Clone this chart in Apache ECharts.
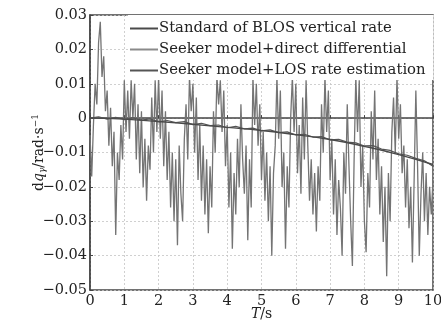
<!DOCTYPE html>
<html>
<head>
<meta charset="utf-8">
<script src="https://cdn.jsdelivr.net/npm/echarts@6/dist/echarts.min.js"></script>
<style>
  html, body { margin: 0; padding: 0; background: #fff; }
  #chart { width: 441px; height: 322px; }
</style>
</head>
<body>
<div id="chart"></div>
<script>
// time step of the sampled series (s)
const noiseStep = 0.05;
const losStep = 0.25;

const seriesNames = [
  "Standard of BLOS vertical rate",
  "Seeker model+direct differential",
  "Seeker model+LOS rate estimation",
];

// standard BLOS vertical rate, t = 0..10 s, 1 s apart
const standardT = [0, 1, 2, 3, 4, 5, 6, 7, 8, 9, 10];
const standardRate = [0, -0.0003, -0.001, -0.0018, -0.0027, -0.0036, -0.0048, -0.0062, -0.0082, -0.0106, -0.0135];

// seeker model + direct differential, every 0.05 s
const directRate = [
  -0.005, -0.017, -0.002, 0.010, 0.004, 0.022, 0.028, 0.012, 0.018, 0.002,
  0.008, -0.008, 0.003, -0.014, -0.004, -0.034, -0.010, -0.018, -0.002, -0.012,
  0.011, -0.004, 0.008, -0.006, 0.011, 0.000, 0.010, -0.012, 0.004, -0.016,
  0.002, -0.020, -0.006, -0.024, -0.008, -0.015, 0.006, -0.010, 0.011, -0.004,
  0.012, -0.006, 0.008, -0.014, 0.002, -0.018, -0.004, -0.026, -0.010, -0.030,
  -0.012, -0.037, -0.008, -0.022, -0.030, -0.006, 0.004, -0.012, 0.012, 0.002,
  0.010, -0.010, 0.006, -0.018, -0.002, -0.024, -0.008, -0.028, -0.012, -0.0335,
  -0.014, -0.026, 0.002, -0.010, 0.012, 0.004, 0.011, -0.004, 0.008, -0.014,
  -0.002, -0.026, -0.010, -0.038, -0.016, -0.028, -0.006, -0.020, 0.004, -0.012,
  -0.022, -0.008, -0.0355, -0.012, -0.026, 0.012, -0.002, 0.010, -0.008, 0.004,
  -0.018, -0.004, -0.024, -0.010, -0.030, -0.014, -0.040, -0.016, -0.008, 0.012,
  -0.006, 0.008, -0.020, -0.010, -0.038, -0.014, -0.026, 0.000, 0.012, -0.004,
  0.010, -0.016, -0.002, -0.022, 0.006, -0.012, 0.011, -0.008, -0.024, -0.012,
  -0.028, -0.016, -0.033, -0.014, -0.024, 0.004, -0.010, 0.012, -0.004, 0.008,
  -0.018, -0.006, -0.028, -0.012, -0.034, -0.018, -0.026, -0.040, -0.010, -0.022,
  0.004, -0.014, -0.030, -0.043, -0.012, 0.012, -0.004, 0.011, -0.020, -0.008,
  -0.030, -0.039, -0.016, -0.026, 0.002, -0.012, 0.008, -0.018, -0.006, -0.028,
  -0.014, -0.036, -0.020, -0.046, -0.016, -0.030, -0.004, 0.006, -0.010, 0.012,
  -0.006, 0.004, -0.016, -0.008, -0.026, -0.012, -0.032, -0.020, -0.042, -0.018,
  0.008, -0.014, -0.040, -0.022, -0.010, -0.030, -0.016, -0.034, -0.020, -0.028,
  -0.018,
];

// seeker model + LOS rate estimation, every 0.25 s
const losRate = [
  0.0000, 0.0004, -0.0003, 0.0002, -0.0004, 0.0001, -0.0006, -0.0002, -0.0011, -0.0007,
  -0.0013, -0.0010, -0.0019, -0.0015, -0.0022, -0.0020, -0.0028, -0.0024, -0.0031, -0.0029,
  -0.0037, -0.0034, -0.0042, -0.0040, -0.0049, -0.0047, -0.0055, -0.0054, -0.0063, -0.0062,
  -0.0070, -0.0072, -0.0081, -0.0080, -0.0090, -0.0094, -0.0104, -0.0108, -0.0117, -0.0124,
  -0.0140,
];

const yTicks = [0.03, 0.02, 0.01, 0, -0.01, -0.02, -0.03, -0.04, -0.05];
const xTicks = [0, 1, 2, 3, 4, 5, 6, 7, 8, 9, 10];

const serif = "DejaVu Serif";
const ink = "#222";

const chart = echarts.init(document.getElementById("chart"));

function pairs(step, values) {
  return values.map((v, i) => [+(i * step).toFixed(2), v]);
}

chart.setOption({
  animation: false,
  grid: {
    left: 90,
    right: 8,
    top: 15,
    bottom: 32,
    outerBoundsMode: "none",
    show: true,
    borderColor: "#444",
    borderWidth: 1.5,
  },
  legend: {
    orient: "vertical",
    left: 128,
    top: 15,
    right: 9,
    itemWidth: 28,
    itemHeight: 14,
    itemGap: 6,
    padding: [6, 8, 2, 2],
    backgroundColor: "#fff",
    icon: "path://M0,6H28V8H0Z",
    textStyle: { fontFamily: serif, fontSize: 14.8, color: ink, padding: [0, 0, 0, -4] },
    data: seriesNames,
  },
  xAxis: {
    type: "value",
    min: xTicks[0],
    max: xTicks[xTicks.length - 1],
    interval: 1,
    name: "{it|T}/s",
    nameLocation: "middle",
    nameGap: 17,
    nameMoveOverlap: false,
    nameTextStyle: {
      fontFamily: serif,
      fontSize: 14,
      color: ink,
      rich: { it: { fontStyle: "italic", fontFamily: serif, fontSize: 14, color: ink } },
    },
    axisLine: { show: true, lineStyle: { color: "#444", width: 1.5 } },
    axisTick: { inside: true, length: 3, lineStyle: { color: "#444" } },
    axisLabel: { fontFamily: serif, fontSize: 14.5, color: ink, margin: 4 },
    splitLine: { show: true, lineStyle: { color: "#c4c4c4", type: [2, 2], width: 0.8 } },
  },
  yAxis: {
    type: "value",
    min: yTicks[yTicks.length - 1],
    max: yTicks[0],
    interval: 0.01,
    name: "{t|d}{i|q}{s|γ}{t|/rad·s}{p|−1}",
    nameLocation: "middle",
    nameGap: 43,
    nameMoveOverlap: false,
    nameTextStyle: {
      rich: {
        t: { fontFamily: serif, fontSize: 14, color: ink },
        i: { fontFamily: serif, fontSize: 14, color: ink, fontStyle: "italic" },
        s: { fontFamily: serif, fontSize: 9, color: ink, fontStyle: "italic", verticalAlign: "bottom", padding: [7, 0, 0, 0] },
        p: { fontFamily: serif, fontSize: 9, color: ink, verticalAlign: "top", padding: [0, 0, 7, 0] },
      },
    },
    axisLine: { show: true, lineStyle: { color: "#444", width: 1.5 } },
    axisTick: { inside: true, length: 3, lineStyle: { color: "#444" } },
    axisLabel: {
      fontFamily: serif,
      fontSize: 14.5,
      color: ink,
      margin: 3,
      formatter: (v) => {
        const r = Math.round(v * 100) / 100;
        return r < 0 ? "−" + Math.abs(r) : String(r);
      },
    },
    splitLine: { show: true, lineStyle: { color: "#c4c4c4", type: [2, 2], width: 0.8 } },
  },
  series: [
    {
      name: seriesNames[0],
      type: "line",
      smooth: true,
      symbol: "none",
      z: 4,
      lineStyle: { color: "#4a4a4a", width: 1.4 },
      itemStyle: { color: "#4a4a4a" },
      data: standardT.map((t, i) => [t, standardRate[i]]),
    },
    {
      name: seriesNames[1],
      type: "line",
      symbol: "none",
      z: 2,
      lineStyle: { color: "#747474", width: 1.3 },
      itemStyle: { color: "#8a8a8a" },
      data: pairs(noiseStep, directRate),
    },
    {
      name: seriesNames[2],
      type: "line",
      symbol: "none",
      z: 3,
      lineStyle: { color: "#555", width: 1.2 },
      itemStyle: { color: "#555" },
      data: pairs(losStep, losRate),
    },
  ],
});
</script>
</body>
</html>
